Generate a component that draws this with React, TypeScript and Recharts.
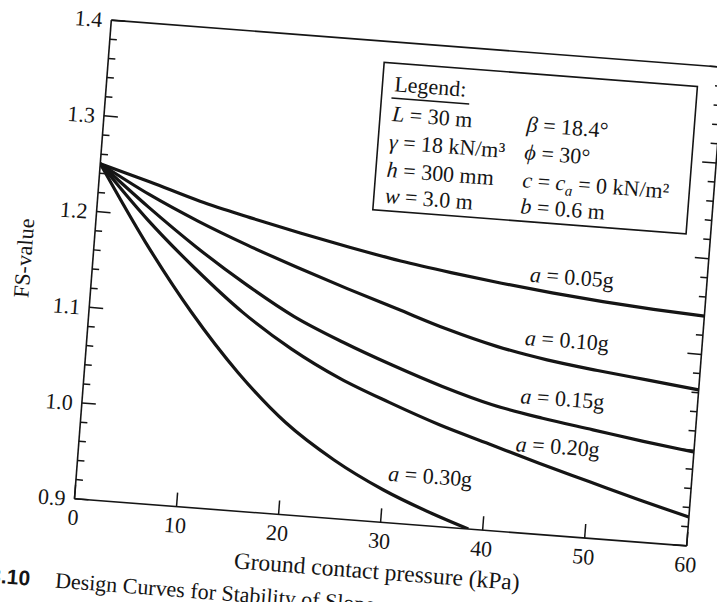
import { Line, LineChart, ReferenceArea, ReferenceDot, XAxis, YAxis } from 'recharts';

// ground contact pressure (kPa) sample points
const pressure = [0, 5, 10, 15, 20, 25, 30, 35, 40, 45, 50, 55, 60];
const pressure030 = [0, 5, 10, 15, 20, 25, 30, 35, 38.6];

// FS-value
const fs005 = [1.25, 1.235, 1.219, 1.206, 1.194, 1.183, 1.173, 1.165, 1.158, 1.152, 1.147, 1.143, 1.14];
const fs010 = [1.25, 1.222, 1.198, 1.177, 1.158, 1.14, 1.123, 1.106, 1.092, 1.082, 1.075, 1.069, 1.063];
const fs015 = [1.25, 1.209, 1.171, 1.137, 1.107, 1.084, 1.064, 1.046, 1.031, 1.021, 1.013, 1.005, 0.998];
const fs020 = [1.25, 1.196, 1.149, 1.107, 1.073, 1.046, 1.025, 1.006, 0.99, 0.974, 0.959, 0.944, 0.93];
const fs030 = [1.25, 1.172, 1.103, 1.044, 0.996, 0.961, 0.934, 0.913, 0.9];

const xTicks = [0, 10, 20, 30, 40, 50, 60];
const xTopTicks = [10, 20, 30, 40, 50];
const yTicks = [
  0.9, 0.92, 0.94, 0.96, 0.98, 1.0, 1.02, 1.04, 1.06, 1.08, 1.1, 1.12, 1.14, 1.16, 1.18, 1.2, 1.22, 1.24,
  1.26, 1.28, 1.3, 1.32, 1.34, 1.36, 1.38, 1.4,
];

const FONT = "'Liberation Serif', 'Times New Roman', Times, serif";
const INK = '#151515';
const CHART_W = 714;
const CHART_H = 600;
const PLOT_LEFT = 80;
const PLOT_TOP = 20;
const PLOT_W = 614;
const PLOT_H = 480;

const toPoints = (xs: number[], ys: number[]) => xs.map((x, i) => ({ x, y: ys[i] }));

const curves = [
  { key: '0.05g', data: toPoints(pressure, fs005), label: [46.8, 1.17] },
  { key: '0.10g', data: toPoints(pressure, fs010), label: [46.8, 1.104] },
  { key: '0.15g', data: toPoints(pressure, fs015), label: [46.8, 1.043] },
  { key: '0.20g', data: toPoints(pressure, fs020), label: [46.7, 0.993] },
  { key: '0.30g', data: toPoints(pressure030, fs030), label: [34.5, 0.952] },
];

function isMajor(v: number) {
  return Math.abs(v * 10 - Math.round(v * 10)) < 1e-6;
}

function BottomTick({ x, y, payload }: any) {
  return (
    <g>
      <line x1={x} y1={y} x2={x} y2={y - 14} stroke={INK} strokeWidth={1.5} />
      <text x={x} y={y + 26} textAnchor="middle" fontSize={22} fontFamily={FONT} fill={INK}>
        {payload.value}
      </text>
    </g>
  );
}

function TopTick({ x, y }: any) {
  return <line x1={x} y1={y} x2={x} y2={y + 14} stroke={INK} strokeWidth={1.5} />;
}

function LeftTick({ x, y, payload }: any) {
  const major = isMajor(payload.value);
  return (
    <g>
      <line x1={x} y1={y} x2={x + (major ? 14 : 7)} y2={y} stroke={INK} strokeWidth={1.5} />
      {major && (
        <text x={x - 9} y={y} dy="0.35em" textAnchor="end" fontSize={22} fontFamily={FONT} fill={INK}>
          {payload.value.toFixed(1)}
        </text>
      )}
    </g>
  );
}

function RightTick({ x, y, payload }: any) {
  const major = isMajor(payload.value);
  return <line x1={x} y1={y} x2={x - (major ? 14 : 7)} y2={y} stroke={INK} strokeWidth={1.5} />;
}

function curveLabel(text: string) {
  return (props: any) => (
    <text
      x={props.cx}
      y={props.cy}
      textAnchor="middle"
      dominantBaseline="central"
      fontSize={22}
      fontFamily={FONT}
      fill={INK}
    >
      <tspan fontStyle="italic">a</tspan> = {text}
    </text>
  );
}

function LegendBox({ x, y, width, height }: any) {
  const lx = x + 12;
  const rx = x + 147;
  return (
    <g fontFamily={FONT} fontSize={22} fill={INK}>
      <rect x={x} y={y} width={width} height={height} fill="#fff" stroke={INK} strokeWidth={1.6} />
      <text x={lx} y={y + 28}>Legend:</text>
      <line x1={x + 10} x2={x + 88} y1={y + 35} y2={y + 35} stroke={INK} strokeWidth={1.4} />
      <text x={lx} y={y + 58}>
        <tspan fontStyle="italic">L</tspan> = 30 m
      </text>
      <text x={lx - 1} y={y + 86}>
        <tspan fontStyle="italic">γ</tspan> = 18 kN/m³
      </text>
      <text x={lx - 1} y={y + 114}>
        <tspan fontStyle="italic">h</tspan> = 300 mm
      </text>
      <text x={lx - 1} y={y + 140}>
        <tspan fontStyle="italic">w</tspan> = 3.0 m
      </text>
      <text x={rx} y={y + 58}>
        <tspan fontStyle="italic">β</tspan> = 18.4°
      </text>
      <text x={rx} y={y + 86}>
        <tspan fontStyle="italic">ϕ</tspan> = 30°
      </text>
      <text x={rx} y={y + 114}>
        <tspan fontStyle="italic">c</tspan> = <tspan fontStyle="italic">c</tspan>
        <tspan fontStyle="italic" fontSize={15} dy={5}>a</tspan>
        <tspan dy={-5}> = 0 kN/m²</tspan>
      </text>
      <text x={rx} y={y + 140}>
        <tspan fontStyle="italic">b</tspan> = 0.6 m
      </text>
    </g>
  );
}

export default function App() {
  const axisLine = { stroke: INK, strokeWidth: 1.6 };
  return (
    <div
      style={{
        position: 'fixed',
        left: 0,
        top: 0,
        width: 717,
        height: 602,
        overflow: 'hidden',
        background: '#fff',
      }}
    >
      <div
        style={{
          position: 'absolute',
          left: 12,
          top: 23,
          width: CHART_W,
          height: CHART_H,
          transform: 'rotate(4.4deg)',
          transformOrigin: `${PLOT_LEFT + PLOT_W / 2}px ${PLOT_TOP + PLOT_H / 2}px`,
        }}
      >
        <LineChart width={CHART_W} height={CHART_H} margin={{ top: 10, right: 10, bottom: 10, left: 10 }}>
          <XAxis
            xAxisId="b"
            dataKey="x"
            type="number"
            domain={[0, 60]}
            ticks={xTicks}
            interval={0}
            allowDataOverflow
            height={90}
            tickSize={0}
            tickMargin={0}
            tickLine={false}
            tick={<BottomTick />}
            axisLine={axisLine}
          />
          <XAxis
            xAxisId="t"
            orientation="top"
            type="number"
            domain={[0, 60]}
            ticks={xTopTicks}
            interval={0}
            allowDataOverflow
            height={10}
            tickSize={0}
            tickMargin={0}
            tickLine={false}
            tick={<TopTick />}
            axisLine={axisLine}
          />
          <YAxis
            yAxisId="l"
            type="number"
            domain={[0.9, 1.4]}
            ticks={yTicks}
            interval={0}
            allowDataOverflow
            width={70}
            tickSize={0}
            tickMargin={0}
            tickLine={false}
            tick={<LeftTick />}
            axisLine={axisLine}
          />
          <YAxis
            yAxisId="r"
            orientation="right"
            type="number"
            domain={[0.9, 1.4]}
            ticks={yTicks}
            interval={0}
            allowDataOverflow
            width={10}
            tickSize={0}
            tickMargin={0}
            tickLine={false}
            tick={<RightTick />}
            axisLine={axisLine}
          />
          <ReferenceArea
            xAxisId="b"
            yAxisId="l"
            x1={26.9}
            x2={57.6}
            y1={1.224}
            y2={1.378}
            shape={(p: any) => <LegendBox {...p} />}
          />
          {curves.map((c) => (
            <Line
              key={c.key}
              xAxisId="b"
              yAxisId="l"
              data={c.data}
              dataKey="y"
              type="monotone"
              stroke={INK}
              strokeWidth={3.2}
              dot={false}
              activeDot={false}
              isAnimationActive={false}
            />
          ))}
          {curves.map((c) => (
            <ReferenceDot
              key={`lbl-${c.key}`}
              xAxisId="b"
              yAxisId="l"
              x={c.label[0]}
              y={c.label[1]}
              r={1}
              shape={curveLabel(c.key)}
            />
          ))}
        </LineChart>
        <svg
          width={CHART_W}
          height={CHART_H}
          style={{ position: 'absolute', left: 0, top: 0, pointerEvents: 'none' }}
        >
          <text
            x={PLOT_LEFT - 69}
            y={PLOT_TOP + 244}
            transform={`rotate(-90 ${PLOT_LEFT - 69} ${PLOT_TOP + 244})`}
            textAnchor="middle"
            dominantBaseline="central"
            fontSize={22}
            fontFamily={FONT}
            fill={INK}
          >
            FS-value
          </text>
          <text
            x={PLOT_LEFT + PLOT_W / 2}
            y={PLOT_TOP + PLOT_H + 49}
            textAnchor="middle"
            dominantBaseline="central"
            fontSize={23.5}
            fontFamily={FONT}
            fill={INK}
          >
            Ground contact pressure (kPa)
          </text>
          <text x={1} y={590} fontSize={21} fontWeight="bold" fontFamily="'Liberation Sans', Arial, sans-serif" fill={INK}>
            3.10
          </text>
          <text x={67} y={590} fontSize={22} fontFamily={FONT} fill={INK}>
            Design Curves for Stability of Slopes
          </text>
        </svg>
      </div>
    </div>
  );
}
